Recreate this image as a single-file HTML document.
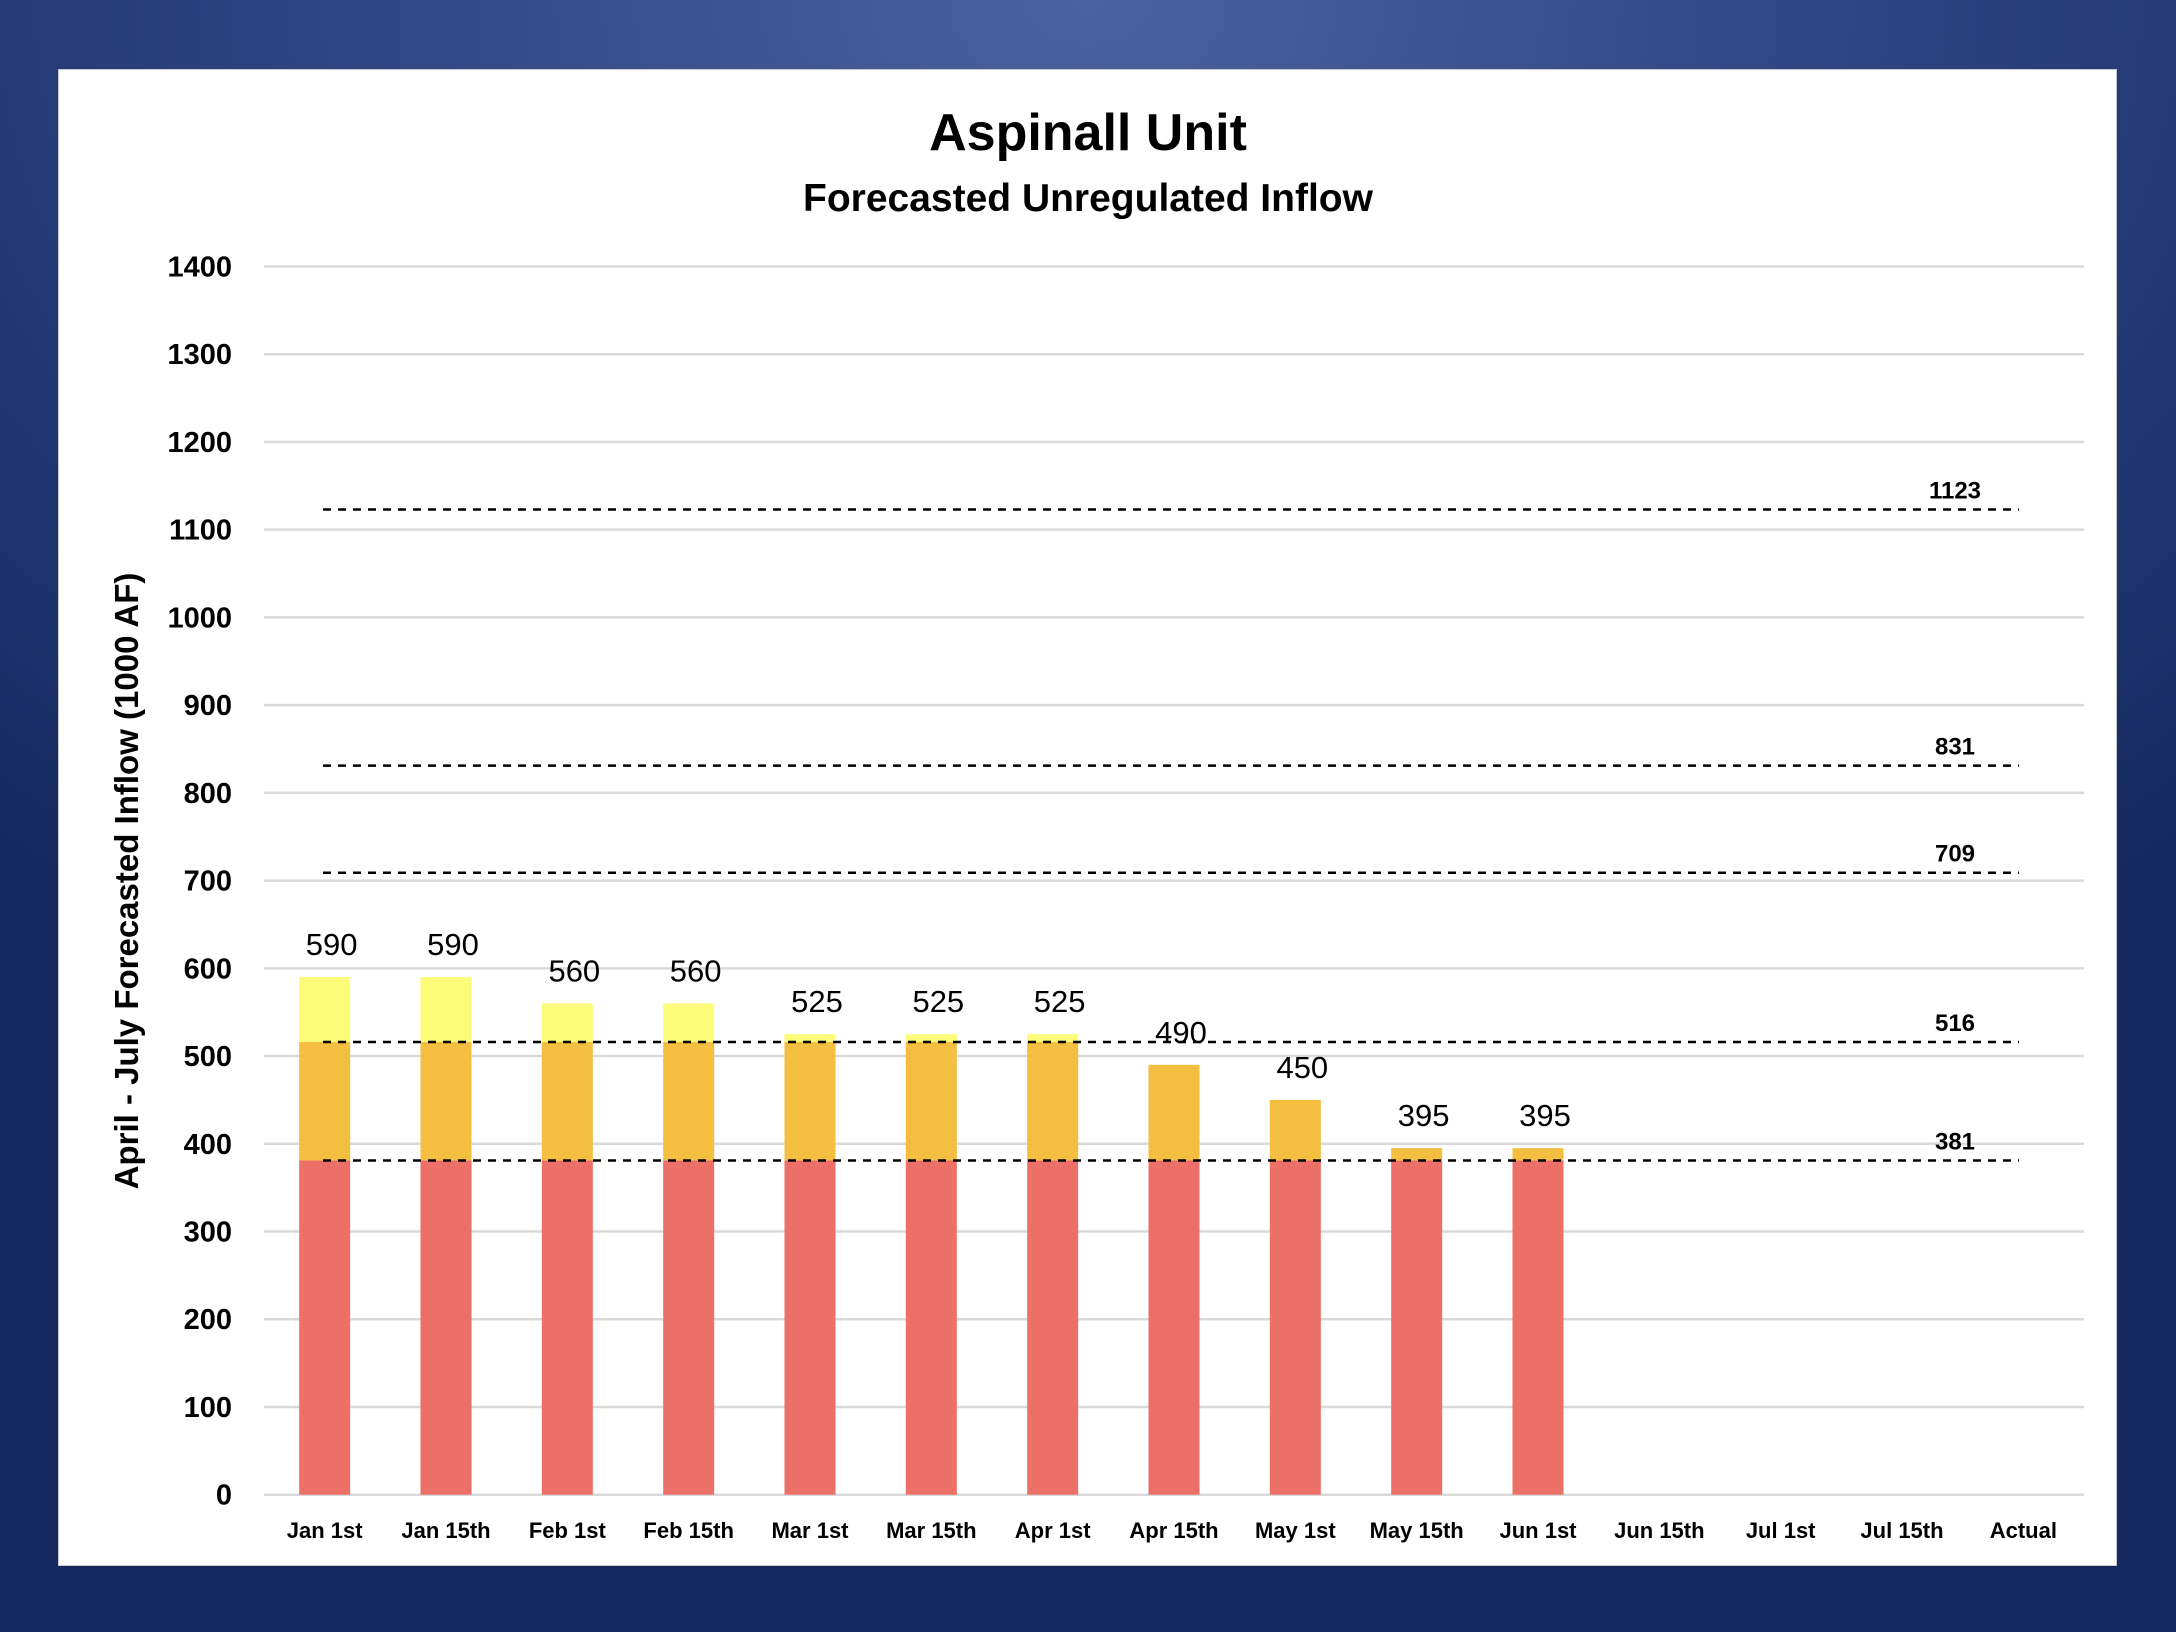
<!DOCTYPE html>
<html><head><meta charset="utf-8"><style>
html,body{margin:0;padding:0;}
body{width:2176px;height:1632px;overflow:hidden;background:radial-gradient(ellipse 75% 70% at 50% 0%, #4b62a0 0%, #2f4584 45%, #15285f 100%);font-family:"Liberation Sans",sans-serif;}
#panel{position:absolute;left:58px;top:69px;width:2059px;height:1497px;background:#fff;border:1px solid #c8c8c8;box-sizing:border-box;}
svg{position:absolute;left:0;top:0;}
</style></head><body>
<div id="panel"></div>
<svg id="chart" width="2176" height="1632"></svg>
<script>
const categories=["Jan 1st","Jan 15th","Feb 1st","Feb 15th","Mar 1st","Mar 15th","Apr 1st","Apr 15th","May 1st","May 15th","Jun 1st","Jun 15th","Jul 1st","Jul 15th","Actual"];
const totals=[590,590,560,560,525,525,525,490,450,395,395];
const thresholdLow=381;
const thresholdMid=516;
const refLines=[1123,831,709,516,381];
const yTicks=[0,100,200,300,400,500,600,700,800,900,1000,1100,1200,1300,1400];
const NS="http://www.w3.org/2000/svg";
const svg=document.getElementById('chart');
const x0=264,x1=2084,yBase=1494.7,yTop=266.5,yMax=1400;
const band=(x1-x0)/categories.length;
function xc(i){return x0+band*(i+0.5);}
function y(v){return yBase-(v/yMax)*(yBase-yTop);}
function mk(tag,attrs,text){const e=document.createElementNS(NS,tag);for(const k in attrs)e.setAttribute(k,attrs[k]);if(text!==undefined)e.textContent=text;svg.appendChild(e);return e;}
const FF='"Liberation Sans", sans-serif';
let t=mk('text',{x:1088,y:150,'text-anchor':'middle','font-size':52,'font-weight':'bold','font-family':FF,fill:'#000'},'Aspinall Unit');


t=mk('text',{x:1088,y:211,'text-anchor':'middle','font-size':39,'font-weight':'bold','font-family':FF,fill:'#000'},'Forecasted Unregulated Inflow');


yTicks.forEach(v=>{
  const g=mk('line',{x1:x0,x2:x1,y1:y(v),y2:y(v),stroke:'#d9d9d9','stroke-width':2.5});
  
  
  const l=mk('text',{x:232,y:y(v)+10,'text-anchor':'end','font-size':29,'font-weight':'bold','font-family':FF,fill:'#000'},String(v));
  
  
});
t=mk('text',{x:0,y:0,transform:'translate(138,881) rotate(-90)','text-anchor':'middle','font-size':33,'font-weight':'bold','font-family':FF,fill:'#000'},'April - July Forecasted Inflow (1000 AF)');


const bw=51;
totals.forEach((v,i)=>{
  const cx=xc(i);
  const segs=[[0,Math.min(v,thresholdLow),'#ed7068','red'],[thresholdLow,Math.min(v,thresholdMid),'#f4be41','orange'],[thresholdMid,v,'#fdfb7a','yellow']];
  segs.forEach(s=>{
    if(s[1]<=s[0])return;
    const r=mk('rect',{x:cx-bw/2,y:y(s[1]),width:bw,height:y(s[0])-y(s[1]),fill:s[2]});
    
    
  });
  const lb=mk('text',{x:cx+7,y:y(v)-22,'text-anchor':'middle','font-size':31,'font-family':FF,fill:'#000'},String(v));
  
  
});
refLines.forEach(v=>{
  const l=mk('line',{x1:323,x2:2019,y1:y(v),y2:y(v),stroke:'#000','stroke-width':2.5,'stroke-dasharray':'8 7'});
  
  
  const tx=mk('text',{x:1955,y:y(v)-11,'text-anchor':'middle','font-size':24,'font-weight':'bold','font-family':FF,fill:'#000'},String(v));
  
  
});
categories.forEach((c,i)=>{
  const l=mk('text',{x:xc(i),y:1538,'text-anchor':'middle','font-size':22,'font-weight':'bold','font-family':FF,fill:'#000'},c);
  
  
});
</script>
</body></html>
